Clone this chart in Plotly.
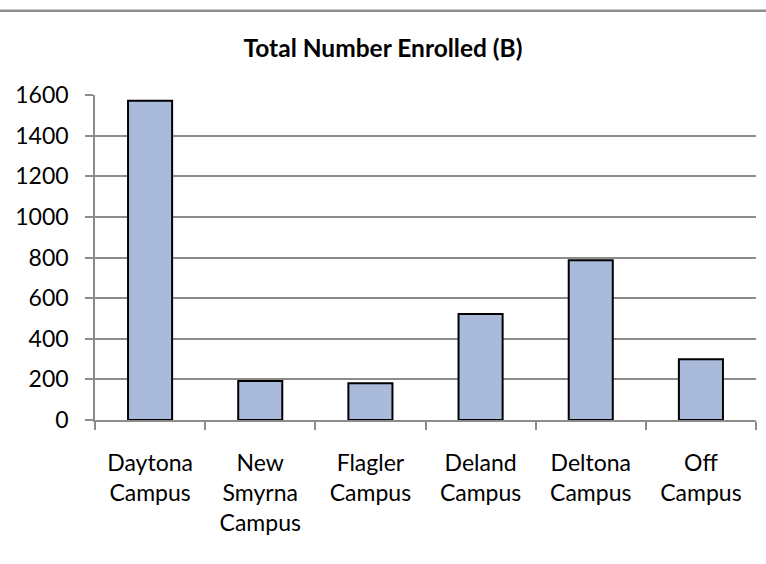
import plotly.graph_objects as go

categories = ["Daytona<br>Campus", "New<br>Smyrna<br>Campus", "Flagler<br>Campus",
              "Deland<br>Campus", "Deltona<br>Campus", "Off<br>Campus"]
enrolled = [1572, 192, 181, 522, 787, 299]
y_ticks = [0, 200, 400, 600, 800, 1000, 1200, 1400, 1600]
title_text = "Total Number Enrolled (B)"

W, H = 766, 564
L, R, T, B = 95, 10, 94.5, 144
FONT = "Lato, Open Sans, sans-serif"
GRID = "#8c8c8c"

fig = go.Figure(go.Bar(
    x=categories, y=enrolled,
    marker=dict(color="#aabada", line=dict(color="#000000", width=2)),
))

ph = H - T - B
pw = W - L - R
fig.update_layout(
    width=W, height=H,
    margin=dict(l=L, r=R, t=T, b=B, pad=0),
    paper_bgcolor="white", plot_bgcolor="white",
    bargap=0.6,
    showlegend=False,
    font=dict(family=FONT, size=23, color="#000000"),
    title=dict(text="<b>" + title_text + "</b>", x=0.5, xref="container", xanchor="center",
               y=1 - 48 / H, yref="container", yanchor="middle",
               font=dict(family=FONT, size=24.5, color="#000000")),
    xaxis=dict(showline=True, linecolor=GRID, linewidth=1.5,
               ticks="outside", tickson="boundaries", ticklen=8, tickcolor=GRID, tickwidth=1.5,
               showgrid=False, ticklabelstandoff=22,
               tickfont=dict(family=FONT, size=23, color="#000000")),
    yaxis=dict(range=[0, 1600], tickvals=y_ticks, showline=True, linecolor=GRID, linewidth=1.5,
               ticks="outside", ticklen=8, tickcolor=GRID, tickwidth=1.5,
               showgrid=True, gridcolor=GRID, gridwidth=1.5, zeroline=False,
               ticklabelstandoff=12,
               tickfont=dict(family=FONT, size=23, color="#000000")),
    shapes=[dict(type="line", xref="paper", yref="paper",
                 x0=-L / pw, x1=1 + R / pw,
                 y0=1 + (T - 10) / ph, y1=1 + (T - 10) / ph,
                 line=dict(color=GRID, width=2.5))],
)

fig.write_html("out.html", config={"displayModeBar": False},
               post_script="document.body.style.margin='0';")
